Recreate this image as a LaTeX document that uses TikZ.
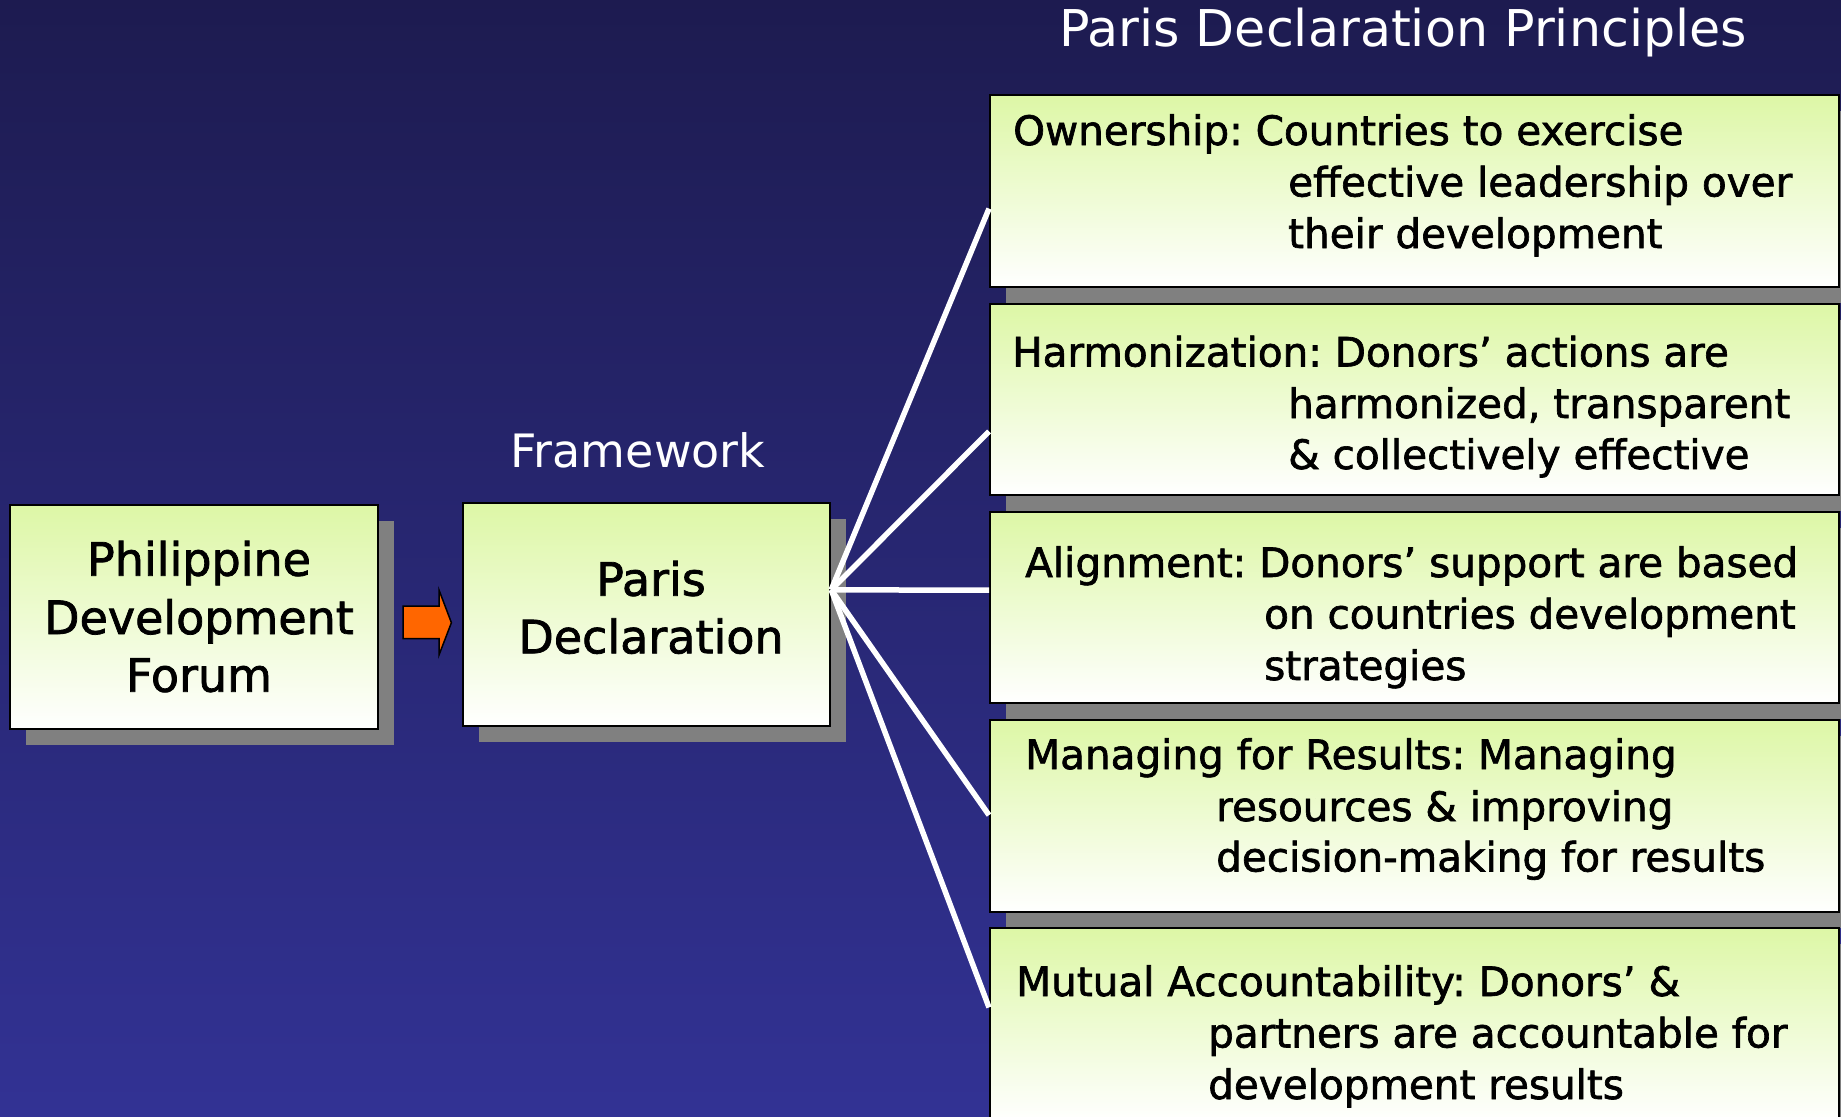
\documentclass[tikz,border=0pt]{standalone}
\usepackage{fontspec}
\setmainfont{DejaVu Sans}
\newfontfamily\boxfont{DejaVu Sans}[FakeBold=1.6]
\usetikzlibrary{calc,shadows}
\definecolor{bgtop}{HTML}{1D1B50}
\definecolor{bgbot}{HTML}{323294}
\definecolor{boxtop}{HTML}{DDF7A6}
\definecolor{shadowgray}{HTML}{808080}
\definecolor{arroworange}{HTML}{FF6600}
\tikzset{
  box/.style={draw=black, line width=2.2pt, top color=boxtop, bottom color=white,
    anchor=north west, inner sep=0pt,
    drop shadow={shadow xshift=16pt, shadow yshift=-16pt, fill=shadowgray, opacity=1}},
  bigtxt/.style={font=\boxfont\fontsize{46}{58}\selectfont, text=black, inner sep=0pt, anchor=base},
  smalltxt/.style={font=\boxfont\fontsize{40.5}{51.6}\selectfont, text=black, inner sep=0pt, anchor=base west},
  headtxt/.style={text=white, inner sep=0pt, anchor=base},
  spoke/.style={draw=white, line width=5.5pt},
}
\frenchspacing
\begin{document}
\frenchspacing
\begin{tikzpicture}[x=1pt,y=-1pt]
\useasboundingbox (0,0) rectangle (1841,1116);
\begin{scope}
\clip (0,0) rectangle (1841,1116);
\shade[top color=bgtop, bottom color=bgbot] (0,0) rectangle (1841,1116);

% titles
\node[headtxt, font=\fontsize{50.7}{60}\selectfont] (title) at (1403,46.7) {Paris Declaration Principles};
\node[headtxt, font=\fontsize{46}{56}\selectfont] (fw) at (638,467) {Framework};

% left boxes
\node[box, minimum width=368pt, minimum height=224pt] (b1) at (9,504) {};
\node[box, minimum width=367pt, minimum height=223pt] (b2) at (462,502) {};
\node[bigtxt] (b1l1) at (199,575.7) {Philippine};
\node[bigtxt] (b1l2) at (199,634) {Development};
\node[bigtxt] (b1l3) at (199,691.7) {Forum};
\node[bigtxt] (b2l1) at (651,595.7) {Paris};
\node[bigtxt] (b2l2) at (651,653.3) {Declaration};

% block arrow
\draw[fill=arroworange, draw=black, line width=1.5pt, line join=miter]
  (403,606) -- (439,606) -- (439,590) -- (451.4,622.7) -- (439,655) -- (439,638.7) -- (403,638.7) -- cycle;

% right boxes
\node[box, minimum width=849pt, minimum height=192pt] (bA) at (989,94) {};
\node[box, minimum width=849pt, minimum height=191pt] (bB) at (989,303) {};
\node[box, minimum width=849pt, minimum height=191pt] (bC) at (989,511) {};
\node[box, minimum width=849pt, minimum height=192pt] (bD) at (989,719) {};
\node[box, minimum width=849pt, minimum height=194pt] (bE) at (989,927) {};

\node[smalltxt] (a1) at (1013,145) {Ownership: Countries to exercise};
\node[smalltxt] (a2) at (1288,196.5) {effective leadership over};
\node[smalltxt] (a3) at (1288,248) {their development};

\node[smalltxt] (bb1) at (1012,366.5) {Harmonization: Donors’ actions are};
\node[smalltxt] (bb2) at (1288,418) {harmonized, transparent};
\node[smalltxt] (bb3) at (1288,469) {\& collectively effective};

\node[smalltxt] (c1) at (1025,577) {Alignment: Donors’ support are based};
\node[smalltxt] (c2) at (1264,628.5) {on countries development};
\node[smalltxt] (c3) at (1264,680) {strategies};

\node[smalltxt] (d1) at (1025,769) {Managing for Results: Managing};
\node[smalltxt] (d2) at (1216,821) {resources \& improving};
\node[smalltxt] (d3) at (1216,871.5) {decision-making for results};

\node[smalltxt] (e1) at (1016,996) {Mutual Accountability: Donors’ \&};
\node[smalltxt] (e2) at (1208,1047.5) {partners are accountable for};
\node[smalltxt] (e3) at (1208,1099) {development results};

% spokes
\coordinate (hub) at ($(b2.north east)!0.39!(b2.south east)$);
\draw[spoke] (hub) -- ($(bA.north west)!0.59!(bA.south west)$);
\draw[spoke] (hub) -- ($(bB.north west)!0.665!(bB.south west)$);
\draw[spoke] (hub) -- ($(bC.north west)!0.41!(bC.south west)$);
\draw[spoke] (hub) -- ($(bD.north west)!0.495!(bD.south west)$);
\draw[spoke] (hub) -- ($(bE.north west)!0.41!(bE.south west)$);
\end{scope}
\end{tikzpicture}
\end{document}
